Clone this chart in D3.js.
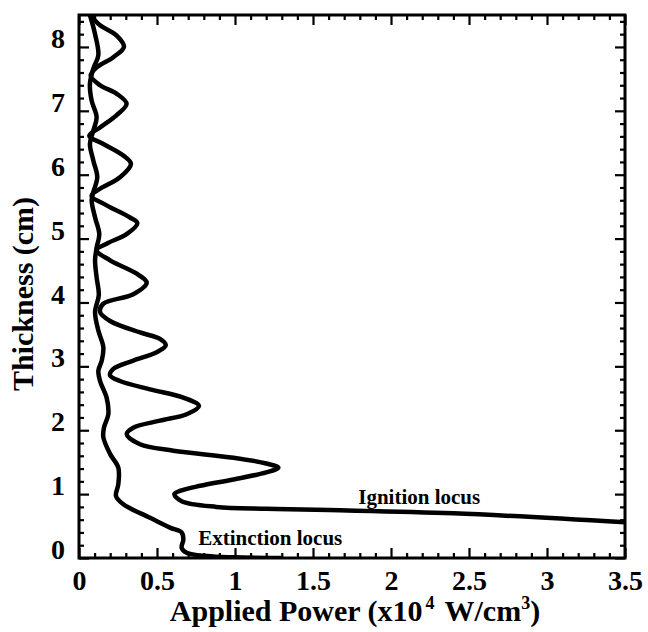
<!DOCTYPE html>
<html>
<head>
<meta charset="utf-8">
<script src="https://cdn.jsdelivr.net/npm/d3@7"></script>
<style>
  body { margin: 0; background: #fff; }
  svg text { font-family: "Liberation Serif", "Times New Roman", serif; font-weight: bold; fill: #000; }
</style>
</head>
<body>
<svg id="MyGraph" width="648" height="632"></svg>
<script>
// tick values / labels
var xTicks = [0, 0.5, 1, 1.5, 2, 2.5, 3, 3.5];
var xTickLabels = ["0", "0.5", "1", "1.5", "2", "2.5", "3", "3.5"];
var yTicks = [0, 1, 2, 3, 4, 5, 6, 7, 8];
var yTickLabels = ["0", "1", "2", "3", "4", "5", "6", "7", "8"];

// ignition locus: [applied power, thickness]
var ignitionLocus = [
  [0.07, 8.5], [0.135, 8.34], [0.24, 8.18], [0.288, 8.0], [0.22, 7.84], [0.113, 7.68],
  [0.075, 7.55], [0.135, 7.40], [0.24, 7.27], [0.305, 7.11], [0.24, 6.93], [0.135, 6.74],
  [0.066, 6.61], [0.156, 6.48], [0.284, 6.30], [0.333, 6.17], [0.263, 5.96], [0.135, 5.78],
  [0.081, 5.67], [0.177, 5.52], [0.327, 5.33], [0.374, 5.24], [0.305, 5.07], [0.177, 4.92],
  [0.113, 4.82], [0.199, 4.66], [0.37, 4.45], [0.434, 4.31], [0.348, 4.13], [0.156, 3.98],
  [0.135, 3.85], [0.199, 3.71], [0.391, 3.53], [0.519, 3.43], [0.556, 3.33], [0.498, 3.22],
  [0.348, 3.09], [0.22, 2.96], [0.199, 2.86], [0.263, 2.77], [0.455, 2.64], [0.669, 2.51],
  [0.769, 2.38], [0.69, 2.25], [0.519, 2.15], [0.348, 2.04], [0.306, 1.94], [0.391, 1.78],
  [0.605, 1.68], [0.99, 1.57], [1.2, 1.48], [1.278, 1.415], [1.2, 1.34], [0.99, 1.23],
  [0.776, 1.13], [0.647, 1.05], [0.611, 1.0], [0.658, 0.89], [0.88, 0.80], [1.2, 0.77],
  [1.6, 0.75], [2.4, 0.70], [3.5, 0.56]
];

// extinction locus: [applied power, thickness]
var extinctionLocus = [
  [0.07, 8.5], [0.103, 8.2], [0.124, 7.87], [0.092, 7.66], [0.07, 7.42], [0.081, 7.16],
  [0.113, 6.90], [0.092, 6.69], [0.07, 6.48], [0.092, 6.22], [0.117, 5.96], [0.092, 5.73],
  [0.081, 5.60], [0.103, 5.33], [0.13, 5.07], [0.113, 4.86], [0.103, 4.66], [0.113, 4.39],
  [0.127, 4.12], [0.103, 3.85], [0.124, 3.56], [0.156, 3.30], [0.146, 3.09], [0.124, 2.93],
  [0.135, 2.77], [0.177, 2.51], [0.188, 2.25], [0.16, 2.04], [0.156, 1.89], [0.199, 1.63],
  [0.252, 1.415], [0.252, 1.155], [0.237, 0.97], [0.284, 0.84], [0.455, 0.63], [0.583, 0.475],
  [0.658, 0.40], [0.669, 0.29], [0.658, 0.16], [0.69, 0.083], [0.82, 0.03], [0.99, 0.01],
  [1.3, 0.0]
];

var svg = d3.select("#MyGraph");
var margin = {top: 15, right: 23, bottom: 74, left: 79},
    width = 648 - margin.left - margin.right,
    height = 632 - margin.top - margin.bottom,
    g = svg.append("g").attr("transform", "translate(" + margin.left + "," + margin.top + ")");

var x = d3.scaleLinear().domain([0, 3.5]).range([0, width]);
var y = d3.scaleLinear().domain([0, 8.5]).range([height, 0]);

var xMinor = d3.range(0, 3.5001, 0.1).filter(function(v) { return Math.abs(v * 2 - Math.round(v * 2)) > 1e-6; });
var yMinor = d3.range(0, 8.5001, 0.2).filter(function(v) { return Math.abs(v - Math.round(v)) > 1e-6; });

function tickAxis(axis, vals, size) {
  return axis.tickValues(vals).tickSize(size).tickFormat("");
}

var axes = [
  [d3.axisBottom(x), xTicks, -10, "translate(0," + height + ")"],
  [d3.axisBottom(x), xMinor, -5, "translate(0," + height + ")"],
  [d3.axisTop(x), xTicks, -10, "translate(0,0)"],
  [d3.axisTop(x), xMinor, -5, "translate(0,0)"],
  [d3.axisLeft(y), yTicks, -10, "translate(0,0)"],
  [d3.axisLeft(y), yMinor, -5, "translate(0,0)"],
  [d3.axisRight(y), yTicks, -10, "translate(" + width + ",0)"],
  [d3.axisRight(y), yMinor, -5, "translate(" + width + ",0)"]
];

axes.forEach(function(a) {
  var ax = g.append("g")
      .attr("transform", a[3])
      .call(tickAxis(a[0], a[1], a[2]));
  ax.select(".domain").remove();
  ax.selectAll("line").attr("stroke", "#000").attr("stroke-width", 2.2);
});

// tick labels
var xl = g.append("g")
    .attr("transform", "translate(0," + height + ")")
    .call(d3.axisBottom(x).tickValues(xTicks).tickSize(0).tickPadding(12)
      .tickFormat(function(d, i) { return xTickLabels[i]; }));
xl.select(".domain").remove();
xl.selectAll("text").attr("font-size", 28).attr("font-family", null);

var yl = g.append("g")
    .call(d3.axisLeft(y).tickValues(yTicks).tickSize(0).tickPadding(14)
      .tickFormat(function(d, i) { return yTickLabels[i]; }));
yl.select(".domain").remove();
yl.selectAll("text").attr("font-size", 28).attr("font-family", null).attr("dy", "0.02em");

// curves
var line = d3.line()
    .x(function(d) { return x(d[0]); })
    .y(function(d) { return y(d[1]); })
    .curve(d3.curveCatmullRom.alpha(0.5));

g.append("clipPath").attr("id", "plotclip")
  .append("rect").attr("x", 0).attr("y", 0).attr("width", width).attr("height", height);

[ignitionLocus, extinctionLocus].forEach(function(s) {
  g.append("path")
      .datum(s)
      .attr("clip-path", "url(#plotclip)")
      .attr("fill", "none")
      .attr("stroke", "#000")
      .attr("stroke-width", 4.5)
      .attr("stroke-linejoin", "round")
      .attr("d", line);
});

// frame
g.append("rect")
    .attr("width", width).attr("height", height)
    .attr("fill", "none").attr("stroke", "#000").attr("stroke-width", 3);

// annotations
g.append("text")
    .attr("x", x(1.79)).attr("y", y(0.8) - 3)
    .attr("font-size", 21)
    .text("Ignition locus");

g.append("text")
    .attr("x", x(0.764)).attr("y", y(0.2) - 0.5)
    .attr("font-size", 21)
    .text("Extinction locus");

// axis titles
var xt = svg.append("text")
    .attr("x", 355).attr("y", 621)
    .attr("text-anchor", "middle")
    .attr("font-size", 30);
xt.append("tspan").text("Applied Power (x10");
xt.append("tspan").attr("font-size", 18).attr("dy", -12).attr("dx", 3).text("4");
xt.append("tspan").attr("dy", 12).attr("dx", 3).text(" W/cm");
xt.append("tspan").attr("font-size", 18).attr("dy", -12).text("3");
xt.append("tspan").attr("dy", 12).text(")");

svg.append("text")
    .attr("transform", "translate(33,294) rotate(-90)")
    .attr("text-anchor", "middle")
    .attr("font-size", 30)
    .text("Thickness (cm)");
</script>
</body>
</html>
